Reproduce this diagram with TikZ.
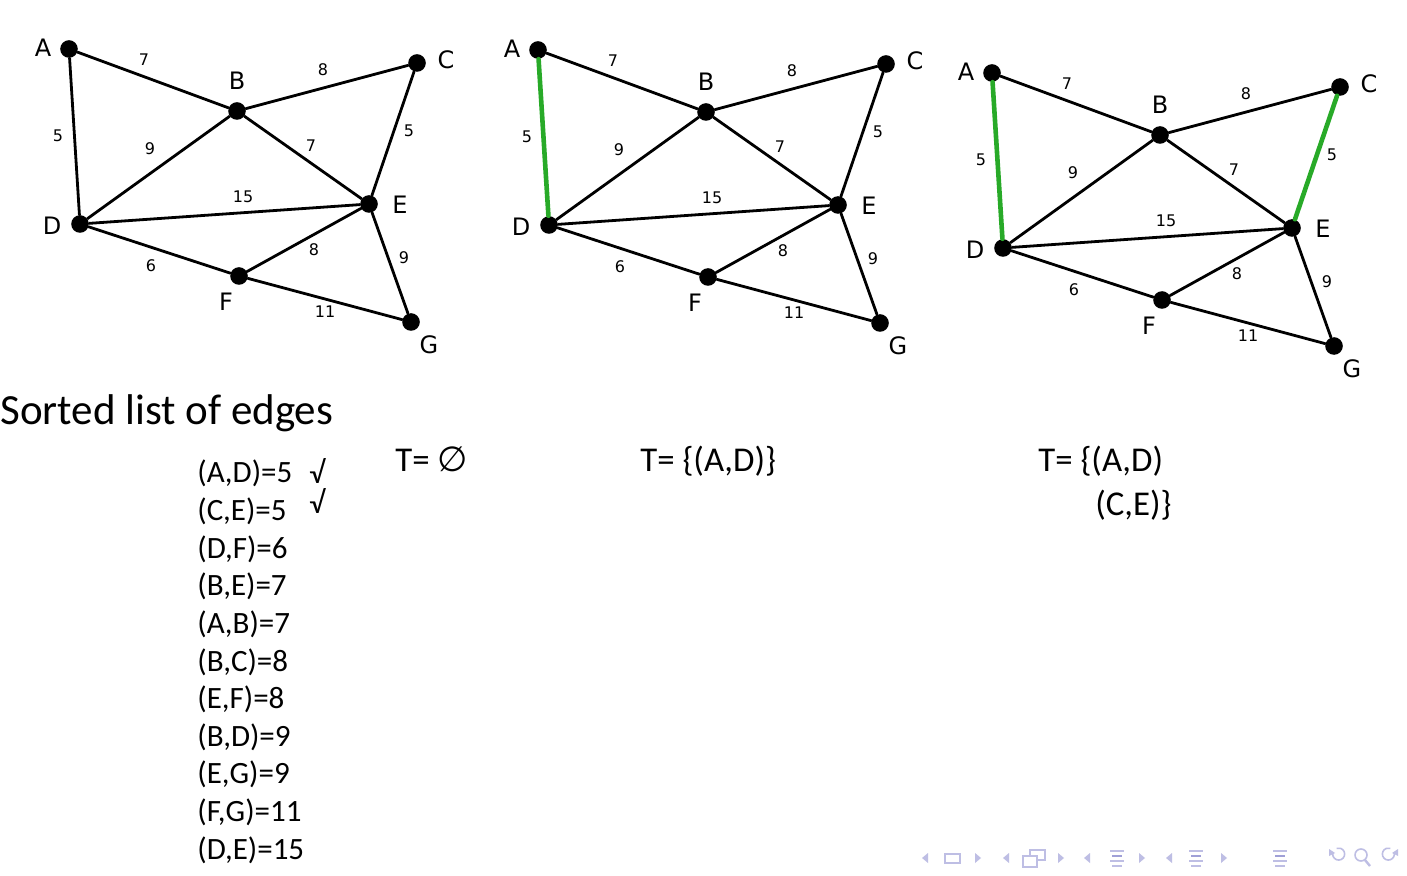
\documentclass[tikz,border=0pt]{standalone}
\usepackage{fontspec}
\setmainfont{Carlito}
\newfontfamily\gfont{DejaVu Sans}
\definecolor{treegreen}{RGB}{40,170,40}
\definecolor{navc}{RGB}{190,190,228}
\definecolor{navd}{RGB}{160,160,215}
\tikzset{
  dot/.style={circle,fill=black,inner sep=0pt,minimum size=8.8pt},
  edge/.style={line width=1.4pt,draw=black,line cap=round},
  tedge/.style={line width=2.3pt,draw=treegreen},
  vlab/.style={font=\gfont\fontsize{12}{14}\selectfont,inner sep=0pt},
  wlab/.style={font=\gfont\fontsize{8}{9}\selectfont,inner sep=0pt},
  txt/.style={font=\fontsize{15.5}{18}\selectfont,anchor=base west,inner sep=0pt},
  ttxt/.style={font=\fontsize{17.4}{20}\selectfont,anchor=base west,inner sep=0pt},
  navsym/.style={line width=0.8pt,draw=navc},
}
\newcommand\kgraph[4]{%
\begin{scope}[shift={#2}]
\node[dot] (#1A) at (69,49) {};
\node[dot] (#1B) at (237,111) {};
\node[dot] (#1C) at (417,63) {};
\node[dot] (#1D) at (80,224) {};
\node[dot] (#1E) at (369,204) {};
\node[dot] (#1F) at (239,276) {};
\node[dot] (#1G) at (411,322) {};
\draw[edge] (#1A) -- (#1B);
\draw[edge,#3] (#1A) -- (#1D);
\draw[edge] (#1B) -- (#1C);
\draw[edge] (#1B) -- (#1D);
\draw[edge] (#1B) -- (#1E);
\draw[edge,#4] (#1C) -- (#1E);
\draw[edge] (#1D) -- (#1E);
\draw[edge] (#1D) -- (#1F);
\draw[edge] (#1E) -- (#1F);
\draw[edge] (#1E) -- (#1G);
\draw[edge] (#1F) -- (#1G);
\node[vlab] (#1lA) at (43,48) {A};
\node[vlab] (#1lB) at (237,81) {B};
\node[vlab] (#1lC) at (446,60) {C};
\node[vlab] (#1lD) at (52,226) {D};
\node[vlab] (#1lE) at (400,205) {E};
\node[vlab] (#1lF) at (226,302) {F};
\node[vlab] (#1lG) at (429,345) {G};
\node[wlab] (#1wAB) at (144,60) {7};
\node[wlab] (#1wBC) at (323,70) {8};
\node[wlab] (#1wAD) at (58,136) {5};
\node[wlab] (#1wBD) at (150,149) {9};
\node[wlab] (#1wBE) at (311,146) {7};
\node[wlab] (#1wCE) at (409,131) {5};
\node[wlab] (#1wDE) at (243,197) {15};
\node[wlab] (#1wEF) at (314,250) {8};
\node[wlab] (#1wDF) at (151,266) {6};
\node[wlab] (#1wEG) at (404,258) {9};
\node[wlab] (#1wFG) at (325,312) {11};
\end{scope}}
\newcommand\navtri[2]{% center x, direction (+1 right, -1 left)
\fill[navc] ({#1-3*#2},853) -- ({#1+3*#2},858) -- ({#1-3*#2},863) -- cycle;}
\newcommand\navlines[1]{%
\draw[navsym] ({#1-7},851) -- ({#1+7},851);
\draw[navsym,draw=navd] ({#1-5},856) -- ({#1+5},856);
\draw[navsym] ({#1-7},861) -- ({#1+7},861);
\draw[navsym] ({#1-5},866) -- ({#1+5},866);}
\begin{document}
\begin{tikzpicture}[x=0.5pt,y=-0.5pt]
\useasboundingbox (0,0) rectangle (1407,876);
\fill[white] (0,0) rectangle (1407,876);
\kgraph{p}{(0,0)}{}{}
\kgraph{q}{(469,1)}{tedge}{}
\kgraph{r}{(923,24)}{tedge}{tedge}
\node[txt,font=\fontsize{21.5}{25}\selectfont] (title) at (0,425) {Sorted list of edges};
\foreach \t [count=\i] in {{(A,D)=5},{(C,E)=5},{(D,F)=6},{(B,E)=7},{(A,B)=7},{(B,C)=8},{(E,F)=8},{(B,D)=9},{(E,G)=9},{(F,G)=11},{(D,E)=15}}
  \node[txt] (e\i) at (197,{483+37.6*(\i-1)}) {\t};
\node[txt] (chk1) at (309,484) {√};
\node[txt] (chk2) at (309,514) {√};
\node[ttxt] (t1) at (395,472) {T= {\gfont ∅}};
\node[ttxt] (t2) at (640,472) {T= \{(A,D)\}};
\node[ttxt] (t3) at (1038,472) {T= \{(A,D)};
\node[ttxt] (t4) at (1095,516) {(C,E)\}};
% navigation symbols
\navtri{925}{-1}
\draw[navsym] (945,854) rectangle (960,863);
\navtri{978}{1}
\navtri{1006}{-1}
\draw[navsym] (1030,850) rectangle (1045,860);
\filldraw[navsym,fill=white] (1023,856) rectangle (1037,867);
\navtri{1061}{1}
\navtri{1087}{-1}
\navlines{1117}
\navtri{1142}{1}
\navtri{1169}{-1}
\navlines{1196}
\navtri{1224}{1}
\navlines{1280}
\draw[navsym] (1333,852) arc[start angle=200,end angle=-110,radius=6];
\fill[navc] (1329,849) -- (1335,853) -- (1329,856) -- cycle;
\draw[navsym] (1361,855) circle[radius=6];
\draw[navsym,line width=1.2pt] (1365,860) -- (1370,866);
\draw[navsym] (1394,852) arc[start angle=-20,end angle=290,radius=6];
\fill[navc] (1398,849) -- (1392,853) -- (1398,856) -- cycle;
\end{tikzpicture}
\end{document}
